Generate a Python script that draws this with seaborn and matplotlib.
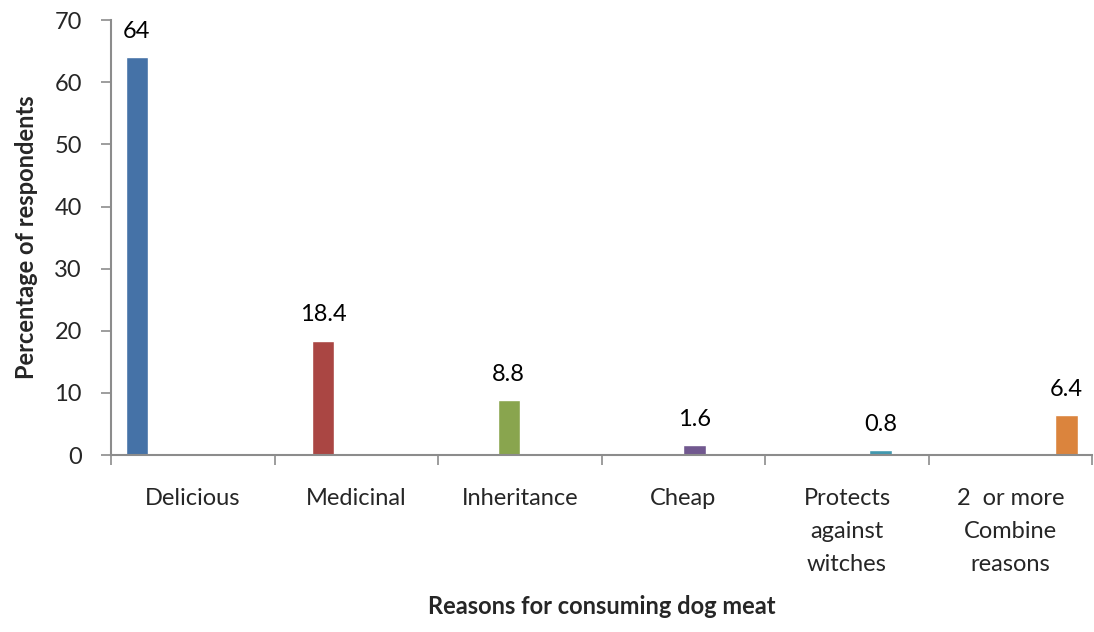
import matplotlib
matplotlib.use("Agg")
import matplotlib.pyplot as plt
import seaborn as sns
import pandas as pd
import numpy as np

reasons = ["Delicious", "Medicinal", "Inheritance", "Cheap",
           "Protects\nagainst\nwitches", "2  or more\nCombine\nreasons"]
percentages = [64, 18.4, 8.8, 1.6, 0.8, 6.4]
colors = ["#4572A7", "#AA4643", "#89A54E", "#71588F", "#4198AF", "#DB843D"]
y_ticks = [0, 10, 20, 30, 40, 50, 60, 70]

sns.set_theme(style="white")
plt.rcParams["font.family"] = ["Lato", "DejaVu Sans"]

df = pd.DataFrame({"reason": reasons, "pct": percentages})

fig = plt.figure(figsize=(10.94, 6.32), dpi=100)
ax = fig.add_axes([0.1015, 0.28, 0.897, 0.688])

sns.barplot(data=df, x="reason", y="pct", hue="reason", order=reasons,
            hue_order=reasons, palette=colors, dodge=True, width=0.82,
            legend=False, ax=ax, saturation=1)

for cont in ax.containers:
    labels = [f"{v:g}" if v > 0 else "" for v in cont.datavalues]
    ax.bar_label(cont, labels=labels, padding=11, fontsize=17, color="black")

ax.set_ylim(0, 70)
ax.set_yticks(y_ticks)
ax.set_xlim(-0.5, 5.5)

# category boundaries carry the tick marks; labels sit at category centres
ax.set_xticks(np.arange(-0.5, 6.0, 1.0), minor=True)
ax.tick_params(axis="x", which="minor", length=7, width=1.2, color="#8c8c8c",
               direction="out", bottom=True)
ax.tick_params(axis="x", which="major", length=0, pad=24, labelsize=17)
ax.tick_params(axis="y", which="major", length=7, width=1.2, color="#8c8c8c",
               direction="out", left=True, labelsize=17, pad=14)
for lbl in ax.get_xticklabels():
    lbl.set_linespacing(1.7)

for side in ["top", "right"]:
    ax.spines[side].set_visible(False)
for side in ["left", "bottom"]:
    ax.spines[side].set_color("#8c8c8c")
    ax.spines[side].set_linewidth(1.5)

ax.set_xlabel("Reasons for consuming dog meat", fontsize=17,
              fontweight="bold", labelpad=14)
ax.set_ylabel("Percentage of respondents", fontsize=17,
              fontweight="bold", labelpad=12)

fig.savefig("out.png", dpi=100)
